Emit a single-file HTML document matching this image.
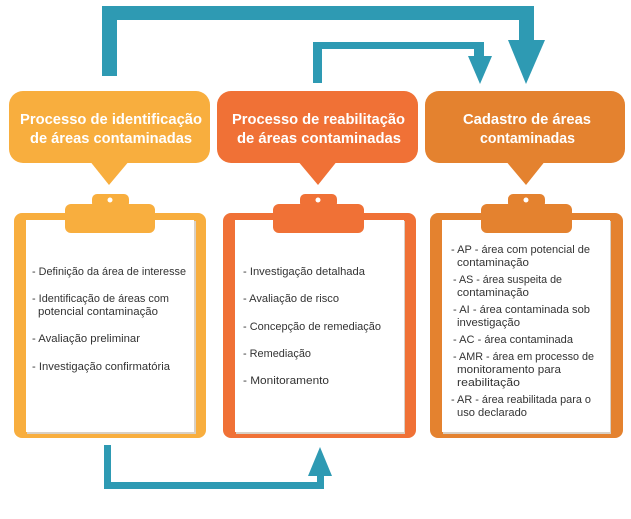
<!DOCTYPE html>
<html><head><meta charset="utf-8"><style>html,body{margin:0;padding:0;background:#fff}svg{display:block}</style></head>
<body>
<svg width="631" height="519" viewBox="0 0 631 519" xmlns="http://www.w3.org/2000/svg" font-family="'Liberation Sans', sans-serif">
<g fill="#2E9AB3">
<!-- big top arrow -->
<rect x="102" y="6" width="15" height="70"/>
<rect x="102" y="6" width="432" height="14"/>
<rect x="519" y="6" width="15" height="36"/>
<polygon points="508,40 545,40 526,84"/>
<!-- second arrow -->
<rect x="313" y="42" width="9" height="41"/>
<rect x="313" y="42" width="171" height="7"/>
<rect x="474" y="42" width="10" height="16"/>
<polygon points="468,56 492,56 480,84"/>
<!-- bottom arrow -->
<rect x="104" y="445" width="7" height="44"/>
<rect x="104" y="482" width="220" height="7"/>
<rect x="317" y="470" width="7" height="19"/>
<polygon points="308,476 332,476 320,447"/>
</g>
<!-- headers -->
<g>
<rect x="9" y="91" width="201" height="72" rx="14" fill="#F8AE3E"/>
<polygon points="89,160 130,160 109,185" fill="#F8AE3E"/>
<rect x="217" y="91" width="201" height="72" rx="14" fill="#F07136"/>
<polygon points="297,160 338,160 318,185" fill="#F07136"/>
<rect x="425" y="91" width="200" height="72" rx="14" fill="#E4822F"/>
<polygon points="505,160 546,160 526,185" fill="#E4822F"/>
</g>
<g fill="#fff" font-weight="bold" font-size="15">
<text x="20" y="124" textLength="182" lengthAdjust="spacingAndGlyphs">Processo de identificação</text>
<text x="30" y="143" textLength="162" lengthAdjust="spacingAndGlyphs">de áreas contaminadas</text>
<text x="232" y="124" textLength="173" lengthAdjust="spacingAndGlyphs">Processo de reabilitação</text>
<text x="237" y="143" textLength="164" lengthAdjust="spacingAndGlyphs">de áreas contaminadas</text>
<text x="463" y="124" textLength="128" lengthAdjust="spacingAndGlyphs">Cadastro de áreas</text>
<text x="480" y="143" textLength="95" lengthAdjust="spacingAndGlyphs">contaminadas</text>
</g>
<!-- clipboards -->
<g>
<rect x="14" y="213" width="192" height="225" rx="8" fill="#F8AE3E"/>
<rect x="27" y="221" width="169" height="213" fill="#d9d0c4"/>
<rect x="26" y="220" width="168" height="212" fill="#fff"/>
<rect x="92" y="194" width="37" height="14" rx="5" fill="#F8AE3E"/>
<rect x="65" y="204" width="90" height="29" rx="6" fill="#F8AE3E"/>
<circle cx="110" cy="200" r="2.5" fill="#fff"/>

<rect x="223" y="213" width="193" height="225" rx="8" fill="#F07136"/>
<rect x="236" y="221" width="169" height="213" fill="#d9d0c4"/>
<rect x="235" y="220" width="169" height="212" fill="#fff"/>
<rect x="300" y="194" width="37" height="14" rx="5" fill="#F07136"/>
<rect x="273" y="204" width="91" height="29" rx="6" fill="#F07136"/>
<circle cx="318" cy="200" r="2.5" fill="#fff"/>

<rect x="430" y="213" width="193" height="225" rx="8" fill="#E4822F"/>
<rect x="443" y="221" width="168" height="213" fill="#d9d0c4"/>
<rect x="442" y="220" width="168" height="212" fill="#fff"/>
<rect x="508" y="194" width="37" height="14" rx="5" fill="#E4822F"/>
<rect x="481" y="204" width="91" height="29" rx="6" fill="#E4822F"/>
<circle cx="526" cy="200" r="2.5" fill="#fff"/>
</g>
<g fill="#333" font-size="11" lengthAdjust="spacingAndGlyphs">
<text x="32" y="275" textLength="154" lengthAdjust="spacingAndGlyphs">- Definição da área de interesse</text>
<text x="32" y="302" textLength="137" lengthAdjust="spacingAndGlyphs">- Identificação de áreas com</text>
<text x="38" y="315" textLength="120" lengthAdjust="spacingAndGlyphs">potencial contaminação</text>
<text x="32" y="342" textLength="108" lengthAdjust="spacingAndGlyphs">- Avaliação preliminar</text>
<text x="32" y="370" textLength="138" lengthAdjust="spacingAndGlyphs">- Investigação confirmatória</text>

<text x="243" y="275" textLength="122" lengthAdjust="spacingAndGlyphs">- Investigação detalhada</text>
<text x="243" y="302" textLength="96" lengthAdjust="spacingAndGlyphs">- Avaliação de risco</text>
<text x="243" y="330" textLength="138" lengthAdjust="spacingAndGlyphs">- Concepção de remediação</text>
<text x="243" y="357" textLength="68" lengthAdjust="spacingAndGlyphs">- Remediação</text>
<text x="243" y="384" textLength="86" lengthAdjust="spacingAndGlyphs">- Monitoramento</text>

<text x="451" y="253" textLength="139" lengthAdjust="spacingAndGlyphs">- AP - área com potencial de</text>
<text x="457" y="266" textLength="72" lengthAdjust="spacingAndGlyphs">contaminação</text>
<text x="453" y="283" textLength="109" lengthAdjust="spacingAndGlyphs">- AS - área suspeita de</text>
<text x="457" y="296" textLength="72" lengthAdjust="spacingAndGlyphs">contaminação</text>
<text x="453" y="313" textLength="137" lengthAdjust="spacingAndGlyphs">- AI - área contaminada sob</text>
<text x="457" y="326" textLength="63" lengthAdjust="spacingAndGlyphs">investigação</text>
<text x="453" y="343" textLength="120" lengthAdjust="spacingAndGlyphs">- AC - área contaminada</text>
<text x="453" y="360" textLength="141" lengthAdjust="spacingAndGlyphs">- AMR - área em processo de</text>
<text x="457" y="373" textLength="104" lengthAdjust="spacingAndGlyphs">monitoramento para</text>
<text x="457" y="386" textLength="63" lengthAdjust="spacingAndGlyphs">reabilitação</text>
<text x="451" y="403" textLength="140" lengthAdjust="spacingAndGlyphs">- AR - área reabilitada para o</text>
<text x="457" y="416" textLength="70" lengthAdjust="spacingAndGlyphs">uso declarado</text>
</g>
</svg>
</body></html>
